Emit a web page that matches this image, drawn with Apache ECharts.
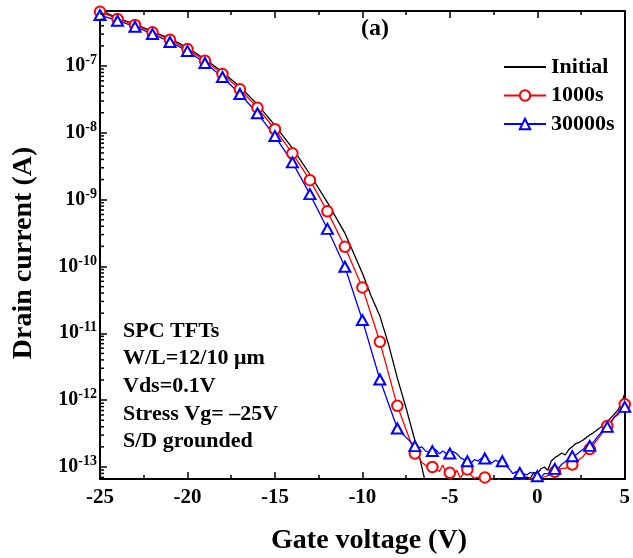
<!DOCTYPE html>
<html><head><meta charset="utf-8">
<script src="https://cdn.jsdelivr.net/npm/echarts@6/dist/echarts.min.js"></script>
<style>html,body{margin:0;padding:0;background:#fff}#c{width:633px;height:558px}</style>
</head><body><div id="c"></div>
<script>
// Gate voltage (V) for the stressed curves (markers drawn at integer volts)
const gateV = [-25,-24,-23,-22,-21,-20,-19,-18,-17,-16,-15,-14,-13,-12,-11,-10,-9,-8,
  -7,-6.8,-6.6,-6.4,-6.2,-6,-5.8,-5.6,-5.4,-5.2,-5,-4.8,-4.6,-4.4,-4.2,-4,-3.8,-3.6,-3.4,-3.2,
  -3,-2.8,-2.6,-2.4,-2.2,-2,-1.8,-1.6,-1.4,-1.2,-1,-0.8,-0.6,-0.4,-0.2,0,0.2,0.4,0.6,0.8,
  1,1.2,1.4,1.6,1.8,2,2.2,2.4,2.6,2.8,3,3.2,3.4,3.6,3.8,4,4.2,4.4,4.6,4.8,5];
// Drain current (A) after 1000 s stress
const id1000s = [6.50e-7,5.06e-7,4.11e-7,3.19e-7,2.48e-7,1.79e-7,1.20e-7,7.59e-8,4.48e-8,2.38e-8,
  1.13e-8,4.93e-9,1.96e-9,6.68e-10,1.97e-10,4.86e-11,7.46e-12,8.22e-13,
  1.59e-13,1.41e-13,1.17e-13,1.07e-13,9.55e-14,1.00e-13,9.55e-14,8.51e-14,1.07e-13,7.94e-14,
  8.17e-14,7.08e-14,8.91e-14,6.76e-14,8.32e-14,9.18e-14,7.59e-14,6.76e-14,7.08e-14,6.46e-14,
  6.97e-14,6.31e-14,6.61e-14,6.03e-14,6.46e-14,6.17e-14,6.03e-14,6.31e-14,6.03e-14,6.46e-14,
  6.31e-14,6.61e-14,6.17e-14,6.76e-14,6.31e-14,6.31e-14,6.76e-14,7.08e-14,7.41e-14,7.59e-14,
  8.45e-14,8.91e-14,9.55e-14,9.55e-14,1.00e-13,1.09e-13,1.17e-13,1.29e-13,1.41e-13,1.66e-13,
  1.85e-13,2.14e-13,2.51e-13,2.95e-13,3.47e-13,4.12e-13,4.68e-13,5.62e-13,6.46e-13,7.59e-13,8.71e-13];
// Drain current (A) after 30000 s stress
const id30000s = [5.79e-7,4.76e-7,3.87e-7,3.01e-7,2.29e-7,1.68e-7,1.11e-7,6.84e-8,3.81e-8,1.96e-8,
  8.95e-9,3.61e-9,1.21e-9,3.66e-10,9.91e-11,1.58e-11,2.04e-12,3.77e-13,
  2.05e-13,1.91e-13,2.00e-13,1.74e-13,1.66e-13,1.73e-13,1.82e-13,1.58e-13,1.74e-13,1.58e-13,
  1.59e-13,1.70e-13,1.58e-13,1.38e-13,1.29e-13,1.22e-13,1.12e-13,1.29e-13,1.23e-13,1.35e-13,
  1.34e-13,1.26e-13,1.15e-13,1.26e-13,1.20e-13,1.22e-13,1.05e-13,9.33e-14,7.94e-14,8.51e-14,
  8.17e-14,7.94e-14,7.59e-14,8.32e-14,7.94e-14,7.28e-14,6.92e-14,7.94e-14,7.94e-14,8.71e-14,
  9.38e-14,9.55e-14,1.10e-13,1.20e-13,1.32e-13,1.45e-13,1.51e-13,1.66e-13,1.82e-13,2.00e-13,
  2.07e-13,2.34e-13,2.75e-13,3.16e-13,3.55e-13,3.98e-13,4.57e-13,5.50e-13,6.03e-13,6.92e-13,7.94e-13];
// Initial curve
const gateVInitial = [-25,-24,-23,-22,-21,-20,-19,-18,-17,-16,-15,-14,-13,-12,-11,-10,
  -9.5,-9,-8.5,-8,-7.5,-7,-6.75,-6.5,-6.25,-6,-3,-1,
  -0.8,-0.6,-0.4,-0.2,0,0.2,0.4,0.6,0.8,1,1.2,1.4,1.6,1.8,2,2.2,2.4,2.6,2.8,3,
  3.2,3.4,3.6,3.8,4,4.2,4.4,4.6,4.8,5];
const idInitial = [6.92e-7,5.19e-7,4.22e-7,3.29e-7,2.57e-7,1.88e-7,1.27e-7,8.13e-8,4.90e-8,2.66e-8,
  1.29e-8,5.89e-9,2.40e-9,9.12e-10,3.16e-10,7.94e-11,
  3.63e-11,1.82e-11,6.76e-12,2.14e-12,7.59e-13,2.51e-13,1.48e-13,7.59e-14,3.98e-14,3.5e-14,3.5e-14,3.5e-14,
  5.0e-14,7.08e-14,6.76e-14,8.32e-14,7.94e-14,9.33e-14,1.00e-13,8.91e-14,1.23e-13,1.38e-13,
  1.48e-13,1.62e-13,1.51e-13,1.82e-13,2.00e-13,2.24e-13,2.34e-13,2.51e-13,2.75e-13,3.02e-13,
  3.24e-13,3.55e-13,3.89e-13,4.27e-13,4.79e-13,5.37e-13,6.17e-13,7.08e-13,8.71e-13,1.26e-12];
const seriesNames = ['Initial', '1000s', '30000s'];
const yDecadeExponents = [-13, -12, -11, -10, -9, -8, -7];
const notes = ['SPC TFTs', 'W/L=12/10 \u03bcm', 'Vds=0.1V', 'Stress Vg= \u201325V', 'S/D grounded'];

const FONT = "'Liberation Serif','Times New Roman',serif";
const xMin = -25, xMax = 5;
const yMin = -13.18, yMax = -6.177;  // log10 of current

function toData(xs, ys, marked) {
  return xs.map((x, i) => {
    const item = { value: [x, Math.log10(ys[i])] };
    if (marked && !Number.isInteger(x)) item.symbol = 'none';
    return item;
  });
}
const minorTicks = [];
for (let n = -14; n <= -7; n++) {
  for (let k = 2; k <= 9; k++) {
    const v = n + Math.log10(k);
    if (v > yMin && v < yMax) minorTicks.push([xMin, v]);
  }
}

const chart = echarts.init(document.getElementById('c'), null, { renderer: 'canvas' });
const axisLineStyle = { color: '#000', width: 2 };
chart.setOption({
  animation: false,
  backgroundColor: '#fff',
  grid: { left: 100, right: 1, top: 11, bottom: 79, containLabel: false },
  xAxis: [{
    type: 'value', min: xMin, max: xMax, interval: 5, position: 'bottom',
    axisLine: { onZero: false, lineStyle: axisLineStyle },
    axisTick: { inside: true, length: 7, lineStyle: { color: '#000', width: 1.5 } },
    minorTick: { show: true, splitNumber: 2, length: 4, lineStyle: { color: '#000', width: 1.5 } },
    splitLine: { show: false },
    axisLabel: { margin: 8, color: '#000', fontFamily: FONT, fontWeight: 'bold', fontSize: 21 }
  }, {
    type: 'value', min: xMin, max: xMax, interval: 5, position: 'top',
    axisLine: { onZero: false, lineStyle: axisLineStyle },
    axisTick: { inside: true, length: 7, lineStyle: { color: '#000', width: 1.5 } },
    minorTick: { show: true, splitNumber: 2, length: 4, lineStyle: { color: '#000', width: 1.5 } },
    splitLine: { show: false }, axisLabel: { show: false }
  }],
  yAxis: [{
    type: 'value', min: yMin, max: yMax, splitNumber: 7, minInterval: 1, maxInterval: 1, position: 'left',
    axisLine: { onZero: false, lineStyle: axisLineStyle },
    axisTick: { inside: true, length: 7, lineStyle: { color: '#000', width: 1.5 } },
    splitLine: { show: false },
    axisLabel: {
      margin: 3,
      formatter: v => {
        const r = Math.round(v);
        return (Math.abs(v - r) < 1e-6 && yDecadeExponents.indexOf(r) >= 0) ? '{b|10}{s|' + r + '}' : '';
      },
      rich: {
        b: { fontFamily: FONT, fontWeight: 'bold', fontSize: 20, color: '#000' },
        s: { fontFamily: FONT, fontWeight: 'bold', fontSize: 14, color: '#000', padding: [0, 0, 11, 0] }
      }
    }
  }, {
    type: 'value', min: yMin, max: yMax, position: 'right',
    axisLine: { show: true, onZero: false, lineStyle: axisLineStyle },
    axisTick: { show: false }, axisLabel: { show: false }, splitLine: { show: false }
  }],
  legend: {
    orient: 'vertical', left: 498, top: 51, itemWidth: 42, itemHeight: 13, itemGap: 6.5,
    textStyle: { fontFamily: FONT, fontWeight: 'bold', fontSize: 22, color: '#000' },
    data: [{ name: seriesNames[0], itemStyle: { opacity: 0 } }, seriesNames[1], seriesNames[2]]
  },
  series: [{
    name: seriesNames[0], type: 'line', data: toData(gateVInitial, idInitial, false),
    symbol: 'none', lineStyle: { color: '#000', width: 1.3 }, itemStyle: { color: '#000' }
  }, {
    name: seriesNames[1], type: 'line', data: toData(gateV, id1000s, true),
    symbol: 'emptyCircle', symbolSize: 10.5, showAllSymbol: true,
    lineStyle: { color: '#ff0000', width: 1.3 }, itemStyle: { color: '#ff0000', borderWidth: 1.2 }
  }, {
    name: seriesNames[2], type: 'line', data: toData(gateV, id30000s, true),
    symbol: 'emptyTriangle', symbolSize: [11, 10], showAllSymbol: true,
    lineStyle: { color: '#0000ff', width: 1.3 }, itemStyle: { color: '#0000ff', borderWidth: 1.2 }
  }, {
    type: 'custom', silent: true, data: minorTicks, clip: false, z: 5,
    renderItem: (params, api) => {
      const p = api.coord([api.value(0), api.value(1)]);
      return { type: 'line', shape: { x1: p[0], y1: p[1], x2: p[0] + 4, y2: p[1] },
        style: { stroke: '#000', lineWidth: 1.5 } };
    }
  }],
  graphic: [
    { type: 'text', x: 375, y: 29, style: { text: '(a)', font: 'bold 24px ' + FONT, fill: '#000', align: 'center', verticalAlign: 'middle' } },
    { type: 'text', x: 123, y: 317, style: { text: notes.join('\n'), font: 'bold 22px ' + FONT, fill: '#000', lineHeight: 27.7, verticalAlign: 'top' } },
    { type: 'text', x: 369, y: 541, style: { text: 'Gate voltage (V)', font: 'bold 28px ' + FONT, fill: '#000', align: 'center', verticalAlign: 'middle' } },
    { type: 'text', x: 24, y: 253, rotation: Math.PI / 2, style: { text: 'Drain current (A)', font: 'bold 28px ' + FONT, fill: '#000', align: 'center', verticalAlign: 'middle' } }
  ]
});
</script></body></html>
